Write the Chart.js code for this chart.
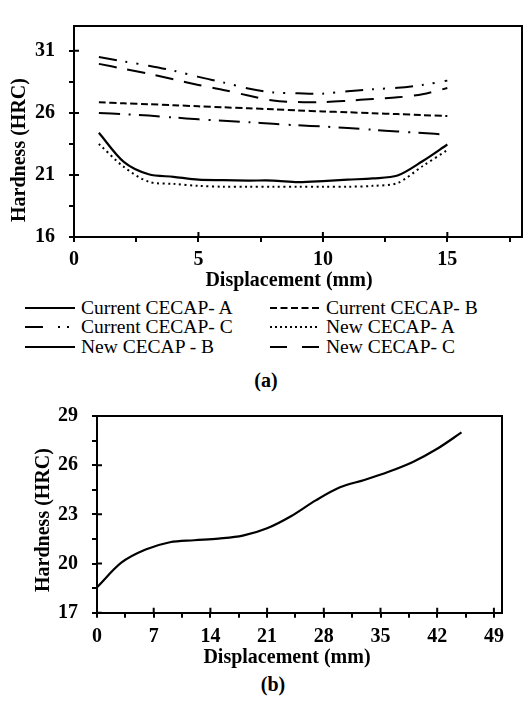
<!DOCTYPE html>
<html><head><meta charset="utf-8">
<script src="https://cdn.jsdelivr.net/npm/chart.js@4.4.1/dist/chart.umd.min.js"></script>
<style>
html,body{margin:0;padding:0;background:#fff;}
#wrap{position:relative;width:529px;height:706px;overflow:hidden;background:#fff;font-family:"Liberation Serif","Times New Roman",serif;color:#000;}
canvas{position:absolute;left:0;}
#cA{top:0;}
#cB{top:390px;}
.cap{position:absolute;font-weight:bold;font-size:20px;line-height:20px;transform:translate(-50%,-50%);white-space:nowrap;}
.lg{position:absolute;font-size:19.5px;line-height:19.5px;white-space:nowrap;transform:translateY(-50%);}
.lgs{position:absolute;}
</style></head><body>
<div id="wrap">
<canvas id="cA" width="529" height="292"></canvas>
<div id="legend"></div>
<div class="cap" style="left:266px;top:380px">(a)</div>
<canvas id="cB" width="529" height="280"></canvas>
<div class="cap" style="left:273px;top:684px">(b)</div>
</div>
<script>
// ---------- Data: chart (a) ----------
const displacementA = [1,2,3,4,5,6,7,8,9,10,11,12,13,14,15];
const currentA = [24.4,22.05,21.05,20.85,20.62,20.58,20.55,20.55,20.42,20.5,20.62,20.72,20.95,22.1,23.45];
const currentB = [26.85,26.77,26.7,26.62,26.53,26.45,26.37,26.29,26.2,26.12,26.05,25.97,25.9,25.82,25.75];
const currentC = [30.5,30.15,29.8,29.4,28.9,28.45,27.97,27.65,27.58,27.55,27.75,27.9,28.02,28.25,28.6];
const newA = [23.5,21.65,20.45,20.28,20.12,20.05,20.05,20.05,20.05,20.05,20.05,20.12,20.35,21.7,23.0];
const newB = [26.0,25.9,25.78,25.63,25.48,25.37,25.25,25.12,25.0,24.9,24.78,24.64,24.5,24.37,24.25];
const newC = [29.95,29.55,29.15,28.7,28.25,27.85,27.4,27.0,26.87,26.87,26.98,27.12,27.25,27.5,28.0];
const seriesNamesA = ["Current CECAP- A","Current CECAP- B","Current CECAP- C","New CECAP- A","New CECAP - B","New CECAP- C"];
const seriesValuesA = [currentA,currentB,currentC,newA,newB,newC];
const yTicksA = [16,18.5,21,23.5,26,28.5,31];
const yLabelsA = [16,21,26,31];
const xTicksA = [0,2.5,5,7.5,10,12.5,15,17.5];
const xLabelsA = [0,5,10,15];

// ---------- Data: chart (b) ----------
const displacementB = [0,3,6,9,12,15,18,21,24,27,30,33,36,39,42,45];
const hardnessB = [18.55,20.05,20.85,21.3,21.42,21.52,21.7,22.15,22.9,23.85,24.65,25.1,25.6,26.2,27.0,28.0];
const yTicksB = [17,18.5,20,21.5,23,24.5,26,27.5,29];
const yLabelsB = [17,20,23,26,29];
const xTicksB = [0,3.5,7,10.5,14,17.5,21,24.5,28,31.5,35,38.5,42,45.5,49];
const xLabelsB = [0,7,14,21,28,35,42,49];

// ---------- Styles ----------
const FONT = '"Liberation Serif", "Times New Roman", serif';
const lineStylesA = [
  {dash: [], legendDash: [], width: 2.2},
  {dash: [7,3.5], legendDash: [7,3.5], width: 2},
  {dash: [18,9,2,9,2,10], legendDash: [18,15,2,7,2,10], width: 2},
  {dash: [2,3.5], legendDash: [2,3], width: 2},
  {dash: [21,9,2,8], legendDash: [], width: 2},
  {dash: [18,11], legendDash: [17,15], width: 2}
];

function makeAxis(o) {
  return {
    type: 'linear', min: o.min, max: o.max,
    afterBuildTicks: s => { s.ticks = o.ticks.map(v => ({value: v})); },
    afterFit: s => { if (o.width) s.width = o.width; if (o.height) s.height = o.height; },
    ticks: {
      autoSkip: false, maxRotation: 0, minRotation: 0, padding: o.pad, color: '#000',
      font: {family: FONT, size: 20, weight: 'bold', lineHeight: 1.2},
      callback: v => o.labels.includes(v) ? String(v) : ''
    },
    grid: {drawOnChartArea: false, drawTicks: true, tickLength: 5, lineWidth: 2, color: '#000'},
    border: {display: true, width: 2, color: '#000'},
    title: {display: false, text: o.title}
  };
}

const framePlugin = {
  id: 'frame',
  afterDraw(chart) {
    const {ctx, chartArea: a} = chart;
    ctx.save();
    ctx.strokeStyle = '#000'; ctx.lineWidth = 2;
    ctx.beginPath();
    ctx.moveTo(a.left, a.top); ctx.lineTo(a.right, a.top); ctx.lineTo(a.right, a.bottom);
    ctx.stroke();
    // inward part of the major ticks
    const sx = chart.scales.x, sy = chart.scales.y;
    const maj = chart.options.plugins.frame;
    ctx.beginPath();
    maj.x.forEach(v => { const p = sx.getPixelForValue(v); ctx.moveTo(p, a.bottom); ctx.lineTo(p, a.bottom - 5); });
    maj.y.forEach(v => { const p = sy.getPixelForValue(v); ctx.moveTo(a.left, p); ctx.lineTo(a.left + 5, p); });
    ctx.stroke();
    // axis titles
    const t = chart.options.plugins.frame;
    ctx.fillStyle = '#000';
    ctx.font = 'bold 20px ' + FONT;
    ctx.textAlign = 'center'; ctx.textBaseline = 'middle';
    ctx.fillText(sx.options.title.text, t.xTitle[0], t.xTitle[1]);
    ctx.translate(t.yTitle[0], t.yTitle[1]);
    ctx.rotate(-Math.PI / 2);
    ctx.fillText(sy.options.title.text, 0, 0);
    ctx.restore();
  }
};

// ---------- Chart (a) ----------
const chartA = new Chart(document.getElementById('cA'), {
  type: 'line',
  data: {
    datasets: seriesNamesA.map((name, i) => ({
      label: name,
      data: displacementA.map((x, j) => ({x: x, y: seriesValuesA[i][j]})),
      borderColor: '#000', backgroundColor: '#000',
      borderWidth: lineStylesA[i].width, borderDash: lineStylesA[i].dash,
      pointRadius: 0, tension: 0.3, fill: false
    }))
  },
  options: {
    responsive: false, animation: false, devicePixelRatio: 1,
    layout: {padding: {left: 0, top: 7, right: 7, bottom: 0}},
    plugins: {
      legend: {display: false}, tooltip: {enabled: false},
      frame: {x: xLabelsA, y: yLabelsA, xTitle: [289, 281], yTitle: [20, 150]}
    },
    scales: {
      x: makeAxis({min: 0, max: 18, ticks: xTicksA, labels: xLabelsA, pad: 6, height: 55, title: 'Displacement (mm)'}),
      y: makeAxis({min: 16, max: 33, ticks: yTicksA, labels: yLabelsA, pad: 14, width: 74, title: 'Hardness (HRC)'})
    }
  },
  plugins: [framePlugin]
});

// ---------- Legend (a), built from the datasets ----------
(function buildLegend() {
  const lg = document.getElementById('legend');
  const colX = [25, 270];
  const rowY = [307.5, 327, 346.5];
  chartA.data.datasets.forEach((ds, i) => {
    const col = i % 2, row = Math.floor(i / 2);
    const x = colX[col], y = rowY[row];
    const st = lineStylesA[i];
    const svg = document.createElementNS('http://www.w3.org/2000/svg', 'svg');
    svg.setAttribute('width', '50'); svg.setAttribute('height', '6');
    svg.setAttribute('class', 'lgs');
    svg.style.left = x + 'px'; svg.style.top = (y - 3) + 'px';
    const ln = document.createElementNS('http://www.w3.org/2000/svg', 'line');
    ln.setAttribute('x1', '0'); ln.setAttribute('y1', '3'); ln.setAttribute('x2', '50'); ln.setAttribute('y2', '3');
    ln.setAttribute('stroke', '#000'); ln.setAttribute('stroke-width', '2');
    if (st.legendDash.length) ln.setAttribute('stroke-dasharray', st.legendDash.join(' '));
    svg.appendChild(ln);
    lg.appendChild(svg);
    const sp = document.createElement('div');
    sp.className = 'lg';
    sp.style.left = (x + 56) + 'px'; sp.style.top = y + 'px';
    sp.textContent = ds.label;
    lg.appendChild(sp);
  });
})();

// ---------- Chart (b) ----------
new Chart(document.getElementById('cB'), {
  type: 'line',
  data: {
    datasets: [{
      label: 'Hardness',
      data: displacementB.map((x, j) => ({x: x, y: hardnessB[j]})),
      borderColor: '#000', backgroundColor: '#000', borderWidth: 2.2,
      pointRadius: 0, cubicInterpolationMode: 'monotone', fill: false
    }]
  },
  options: {
    responsive: false, animation: false, devicePixelRatio: 1,
    layout: {padding: {left: 0, top: 15, right: 27, bottom: 0}},
    plugins: {
      legend: {display: false}, tooltip: {enabled: false},
      frame: {x: xLabelsB, y: yLabelsB, xTitle: [287, 268], yTitle: [43.5, 130]}
    },
    scales: {
      x: makeAxis({min: 0, max: 50, ticks: xTicksB, labels: xLabelsB, pad: 7, height: 57.3, title: 'Displacement (mm)'}),
      y: makeAxis({min: 17, max: 29, ticks: yTicksB, labels: yLabelsB, pad: 14, width: 97, title: 'Hardness (HRC)'})
    }
  },
  plugins: [framePlugin]
});
</script>
</body></html>
